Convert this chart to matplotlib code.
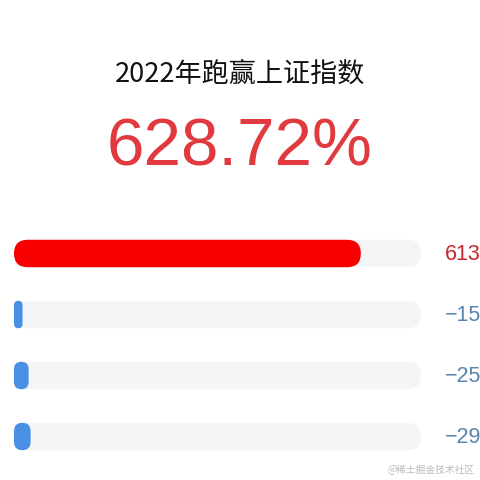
import matplotlib.pyplot as plt
from matplotlib.patches import FancyBboxPatch

plt.rcParams['font.family'] = ['Noto Sans CJK SC', 'DejaVu Sans']

title = "2022年跑赢上证指数"
headline = "628.72%"
names = ["基金", "上证指数", "深证成指", "创业板指"]
values = [613.59, -15.13, -25.85, -29.37]
labels = ["613.59%", "−15.13%", "−25.85%", "−29.37%"]
full_scale = 720

fill_colors = ["#F70000", "#4A8FE6", "#4A8FE6", "#4A8FE6"]
text_colors = ["#C8262C", "#5A84AE", "#5A84AE", "#5A84AE"]
track_color = "#F4F5F6"

W = H = 480
fig = plt.figure(figsize=(4.8, 4.8), dpi=100)
fig.patch.set_facecolor("white")

# text layer in pixel coords
tax = fig.add_axes([0, 0, 1, 1])
tax.set_xlim(0, W)
tax.set_ylim(H, 0)
tax.axis("off")

tax.text(240, 75, title, ha="center", va="center", fontsize=19.5, color="#111111")
tax.text(240, 148, headline, ha="center", va="center", fontsize=48.5,
         color="#E0393E", family=["Liberation Sans", "DejaVu Sans"])

# bar layer
row0, step = 253.5, 61
left, right = 14, 421
bar_h = 0.45
top_px = row0 - step / 2
height_px = step * len(values)
bax = fig.add_axes([left / W, 1 - (top_px + height_px) / H,
                    (right - left) / W, height_px / H])
bax.set_xlim(0, full_scale)
bax.set_ylim(len(values) - 0.5, -0.5)
bax.axis("off")

x_per_px = full_scale / (right - left)
y_per_px = 1 / step
aspect = y_per_px / x_per_px
h_px = bar_h / y_per_px


def pill(x0, w, y, color, z):
    w_px = w / x_per_px
    r_px = min(h_px / 2, w_px / 2)
    p = FancyBboxPatch((x0, y - bar_h / 2), w, bar_h,
                       boxstyle=f"round,pad=0,rounding_size={r_px * x_per_px}",
                       mutation_aspect=aspect, fc=color, ec="none", zorder=z)
    bax.add_patch(p)


# the value labels run past the right edge, as in the reference
for i, v in enumerate(values):
    pill(0, full_scale, i, track_color, 1)
    pill(0, abs(v), i, fill_colors[i], 2)
    tax.text(445, row0 + i * step + 1, labels[i], ha="left", va="center",
             fontsize=15.5, color=text_colors[i],
             family=["Liberation Sans", "DejaVu Sans"])

tax.text(475, 470, "@稀土掘金技术社区", ha="right", va="center", fontsize=7,
         color="#BBBBBB")

fig.savefig("out.png", dpi=100)
